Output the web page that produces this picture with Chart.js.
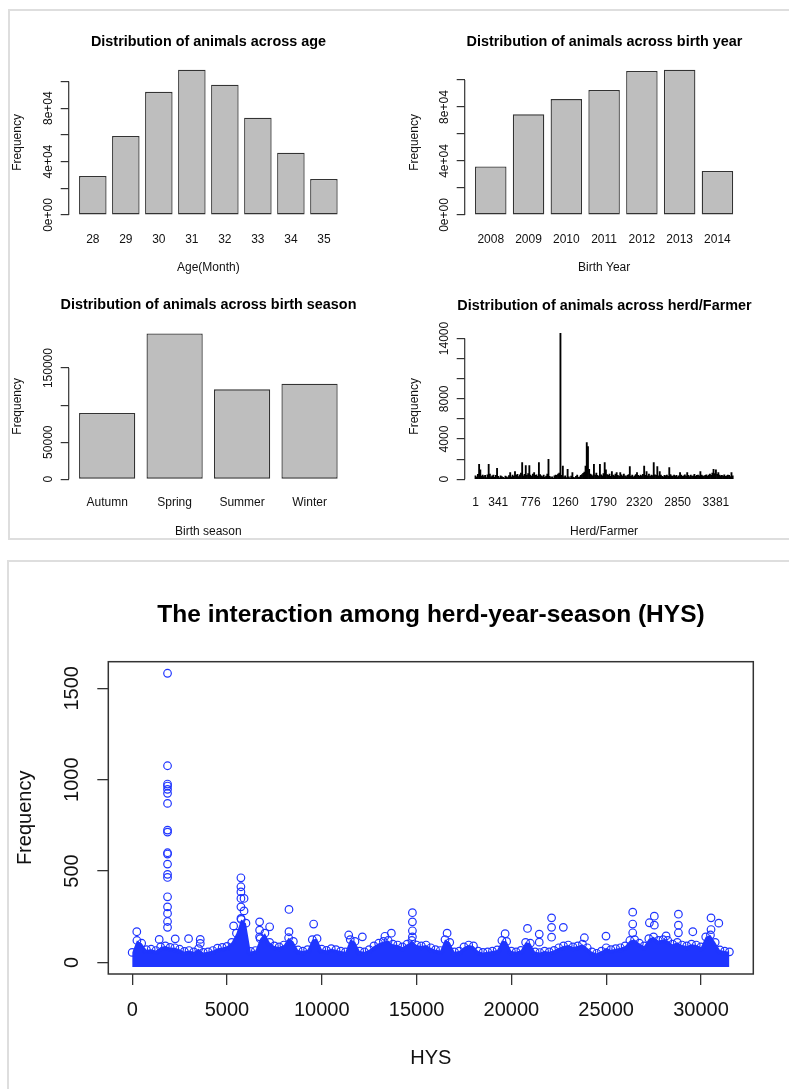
<!DOCTYPE html>
<html>
<head>
<meta charset="utf-8">
<script src="https://cdn.jsdelivr.net/npm/chart.js@4.4.1/dist/chart.umd.min.js"></script>
<style>
body{margin:0;background:#fff;width:789px;height:1089px;overflow:hidden;position:relative}
.panel{position:absolute;border:2px solid #dedede;border-right:none}
canvas{position:absolute}
</style>
</head>
<body>
<div class="panel" style="left:8px;top:9px;width:820px;height:527px"></div>
<div class="panel" style="left:7px;top:560px;width:820px;height:560px;border-bottom:none"></div>
<canvas id="ageChart"></canvas>
<canvas id="yearChart"></canvas>
<canvas id="seasonChart"></canvas>
<canvas id="herdChart"></canvas>
<canvas id="hysChart"></canvas>
<script>
// ---- data ----
const ageLabels = ['28','29','30','31','32','33','34','35'];
const ageCounts = [29200, 59100, 92200, 108700, 97500, 72800, 46600, 26900];
const ageTicks = [0, 20000, 40000, 60000, 80000, 100000];
const ageTickLabels = ['0e+00', '', '4e+04', '', '8e+04', ''];

const yearLabels = ['2008','2009','2010','2011','2012','2013','2014'];
const yearCounts = [36000, 74600, 85900, 92600, 106700, 107600, 32600];
const yearTicks = [0, 20000, 40000, 60000, 80000, 100000];
const yearTickLabels = ['0e+00', '', '4e+04', '', '8e+04', ''];

const seasonLabels = ['Autumn','Spring','Summer','Winter'];
const seasonCounts = [89300, 196700, 121300, 128800];
const seasonTicks = [0, 50000, 100000, 150000];
const seasonTickLabels = ['0', '50000', '', '150000'];

// herds, grouped left to right as they appear in the barplot
const herdCounts = [
  350,220,480,1490,930,310,420,260,390,180,450,1490,520,240,330,410,200,380,1090,290,150,340,270,190,
  120,310,230,180,360,660,250,420,300,760,380,500,270,440,610,1650,330,480,1360,390,560,1360,420,290,
  510,660,380,450,300,1650,470,350,260,420,190,310,520,1990,280,160,240,130,350,420,380,520,610,14500,
  380,1320,250,330,160,990,230,120,310,660,200,150,280,410,190,250,380,470,600,720,1320,3640,3240,980,
  520,430,350,1490,410,620,380,300,1490,450,350,560,1650,930,460,380,510,280,760,420,330,520,660,390,
  280,660,440,310,520,350,260,380,470,1260,300,410,250,330,460,660,380,290,410,350,480,1320,400,760,
  330,520,280,410,370,1650,450,390,1260,340,760,420,300,250,380,330,420,280,1160,470,350,290,420,310,
  380,250,330,660,410,290,350,440,320,660,380,260,410,300,350,480,290,380,420,350,760,410,330,290,
  380,450,320,410,510,380,620,990,560,930,480,660,420,350,390,310,450,280,350,420,380,260,660,330
];
const herdTickLabels = ['1','341','776','1260','1790','2320','2850','3381'];
const herdTickAt = [0, 19, 46, 75, 107, 137, 169, 201];
const herdTicks = [0, 2000, 4000, 6000, 8000, 10000, 12000, 14000];
const herdTickLabelsY = ['0', '', '4000', '', '8000', '', '', '14000'];

// HYS: upper edge of the dense cloud, one value per 250 HYS
const hysBin = 250;
const hysBandTop = [
  55,120,105,70,72,65,85,90,82,80,72,60,65,58,75,55,58,65,78,82,88,110,160,235,215,
  60,65,130,160,110,90,85,95,135,115,68,62,70,125,130,72,66,75,70,62,58,125,115,62,58,
  70,90,105,115,120,100,95,85,100,120,95,90,95,80,70,65,125,110,58,62,85,95,90,62,55,
  58,62,68,120,115,62,58,66,110,105,58,54,62,58,66,80,90,95,85,90,100,80,58,50,62,
  80,70,75,80,90,120,125,105,90,130,140,120,125,120,100,110,95,90,100,95,85,140,150,110,68,
  62,58
];
// HYS: isolated points above the cloud
const hysOutX = [
  1864,1864,1864,1864,1864,1864,1864,1864,1864,1864,1864,1864,1864,1864,1864,1864,1864,1864,1864,
  5735,5735,5735,5735,5900,5735,5900,5735,5350,6720,6720,6720,243,1425,2270,2973,3590,3590,
  8270,8270,9570,7250,12140,11420,13670,13330,14780,14780,14780,14780,
  22120,22120,22120,22740,20850,21470,21470,19670,16610,23850,
  26400,26400,26400,27540,27280,27540,28810,28810,28810,29570,30530,30940,30530,24990,28160
];
const hysOutY = [
  1582,1076,976,965,947,925,870,724,713,600,593,538,482,465,359,304,268,224,192,
  463,414,386,350,350,304,282,241,200,222,177,140,168,126,129,130,126,104,
  290,168,210,195,140,150,160,143,272,222,173,140,
  244,192,138,192,186,155,111,157,160,135,
  275,210,162,253,217,204,264,204,162,168,244,215,180,144,145
];
const hysTicksX = [0, 5000, 10000, 15000, 20000, 25000, 30000];
const hysTicksY = [0, 500, 1000, 1500];

// ---- R-like look ----
const FONT = '"Liberation Sans", Arial, sans-serif';
Chart.defaults.font.family = FONT;
Chart.defaults.color = '#111';
const INK = '#333';
const BLUE = '#1f35ff';

// axis line between first and last tick, rotated y labels, optional box
const rAxes = {
  id: 'rAxes',
  afterDraw(chart, args, opts) {
    const ctx = chart.ctx, y = chart.scales.y, a = chart.chartArea;
    ctx.save();
    ctx.strokeStyle = INK;
    if (opts.box) {
      ctx.lineWidth = 1.5;
      ctx.strokeRect(a.left, a.top, a.right - a.left, a.bottom - a.top);
    } else {
      ctx.lineWidth = 1.2;
      ctx.beginPath();
      ctx.moveTo(a.left, y.getPixelForValue(y.ticks[0].value));
      ctx.lineTo(a.left, y.getPixelForValue(y.ticks[y.ticks.length - 1].value));
      ctx.stroke();
    }
    ctx.fillStyle = '#111';
    ctx.font = opts.size + 'px ' + FONT;
    ctx.textAlign = 'center';
    ctx.textBaseline = 'middle';
    y.ticks.forEach(t => {
      if (!t.label) return;
      ctx.save();
      ctx.translate(a.left - opts.offset, y.getPixelForValue(t.value));
      ctx.rotate(-Math.PI / 2);
      ctx.fillText(t.label, 0, 0);
      ctx.restore();
    });
    ctx.restore();
  }
};

// place a canvas so its plot region lands on the reference one
function frame(el, a, t) {
  const lhMain = t.main * 1.2, lhLab = t.lab * 1.2, lhTick = t.tick * 1.2;
  const cl = Math.floor(t.yTitleX - lhLab / 2);
  const ct = Math.floor(t.titleY - lhMain / 2);
  const cb = Math.ceil(t.xTitleY + lhLab / 2);
  const yWidth = a.l - cl;
  el.width = Math.ceil(a.r + yWidth - cl);
  el.height = cb - ct;
  el.style.left = cl + 'px';
  el.style.top = ct + 'px';
  return {
    rightWidth: el.width - (a.r - cl),   // mirror of the left margin, keeps titles centred on the plot
    titlePad: {top: t.titleY - lhMain / 2 - ct, bottom: a.t - (t.titleY + lhMain / 2)},
    yTitlePad: {top: t.yTitleX - lhLab / 2 - cl, bottom: 0},
    xTitlePad: {top: 0, bottom: cb - t.xTitleY - lhLab / 2},
    yWidth: yWidth,
    xHeight: cb - a.b,
    xTickPad: t.xLabY - a.b - t.tl - lhTick / 2
  };
}

function spacer(f) {
  return {
    position: 'right',
    afterFit: s => { s.width = f.rightWidth; },
    grid: {display: false, drawTicks: false},
    border: {display: false},
    ticks: {display: false}
  };
}

function rBars(id, area, pos, counts, tickAt, tickText, yTicks, yTickText, title, xTitle, look) {
  const el = document.getElementById(id);
  const f = frame(el, area, Object.assign({main: 14.4, lab: 12, tick: 12, tl: 0}, pos));
  const n = counts.length;
  const span = 1.2 * n - 0.2;
  const centers = counts.map((c, i) => 0.7 + 1.2 * i);
  const top = Math.max(...counts);
  return new Chart(el, {
    type: 'bar',
    data: {
      datasets: [{
        data: counts.map((c, i) => ({x: centers[i], y: c})),
        backgroundColor: look.fill,
        borderColor: look.edge,
        borderWidth: look.edgeWidth,
        borderSkipped: false,
        barPercentage: 1,
        categoryPercentage: look.pct
      }]
    },
    plugins: [rAxes],
    options: {
      responsive: false,
      animation: false,
      events: [],
      layout: {padding: 0},
      plugins: {
        legend: {display: false},
        tooltip: {enabled: false},
        title: {display: true, text: title, color: '#000', font: {size: 14.4, weight: 'bold'}, padding: f.titlePad},
        rAxes: {offset: 20.5, size: 12, box: false}
      },
      scales: {
        x: {
          type: 'linear',
          offset: false,
          min: 0.2 - 0.04 * span,
          max: 1.2 * n + 0.04 * span,
          afterBuildTicks: s => { s.ticks = tickAt.map(i => ({value: centers[i]})); },
          afterFit: s => { s.height = f.xHeight; },
          grid: {display: false, drawTicks: false, offset: false},
          border: {display: false},
          ticks: {autoSkip: false, maxRotation: 0, font: {size: 12}, padding: f.xTickPad,
                  callback: (v, i) => tickText[i]},
          title: {display: true, text: xTitle, font: {size: 12}, padding: f.xTitlePad}
        },
        y: {
          min: -0.04 * top,
          max: 1.04 * top,
          afterBuildTicks: s => { s.ticks = yTicks.map(v => ({value: v})); },
          afterFit: s => { s.width = f.yWidth; },
          grid: {drawOnChartArea: false, drawTicks: true, tickLength: 8, color: INK, lineWidth: 1.2},
          border: {display: false},
          ticks: {display: false, callback: (v, i) => yTickText[i]},
          title: {display: true, text: 'Frequency', font: {size: 12}, padding: f.yTitlePad}
        },
        pad: spacer(f)
      }
    }
  });
}

const grey = {fill: '#bebebe', edge: '#333', edgeWidth: 1.3, pct: 1 / 1.2};

rBars('ageChart', {l: 68.7, t: 64, r: 348, b: 220.8},
  {titleY: 42.5, yTitleX: 18, xLabY: 240, xTitleY: 268},
  ageCounts, ageLabels.map((s, i) => i), ageLabels, ageTicks, ageTickLabels,
  'Distribution of animals across age', 'Age(Month)', grey);

rBars('yearChart', {l: 464.7, t: 64, r: 743.5, b: 220.8},
  {titleY: 42, yTitleX: 415, xLabY: 240, xTitleY: 268},
  yearCounts, yearLabels.map((s, i) => i), yearLabels, yearTicks, yearTickLabels,
  'Distribution of animals across birth year', 'Birth Year', grey);

rBars('seasonChart', {l: 68.7, t: 327.6, r: 348, b: 485.1},
  {titleY: 305.3, yTitleX: 18, xLabY: 503, xTitleY: 532},
  seasonCounts, seasonLabels.map((s, i) => i), seasonLabels, seasonTicks, seasonTickLabels,
  'Distribution of animals across birth season', 'Birth season', grey);

rBars('herdChart', {l: 464.7, t: 327.6, r: 743.5, b: 485.1},
  {titleY: 305.7, yTitleX: 415, xLabY: 503, xTitleY: 532},
  herdCounts, herdTickAt, herdTickLabels, herdTicks, herdTickLabelsY,
  'Distribution of animals across herd/Farmer', 'Herd/Farmer',
  {fill: '#000', edge: '#000', edgeWidth: 0, pct: 1});

// ---- HYS scatter ----
(function () {
  const el = document.getElementById('hysChart');
  const f = frame(el, {l: 108.3, t: 661.7, r: 753.3, b: 974},
    {titleY: 615, yTitleX: 25, xLabY: 1010, xTitleY: 1058, main: 24.5, lab: 20, tick: 20, tl: 11});
  const band = hysBandTop.map((v, i) => ({x: i * hysBin, y: v}));
  const out = hysOutX.map((x, i) => ({x: x, y: hysOutY[i]}));
  const xs = band.map(p => p.x).concat(hysOutX);
  const ys = hysBandTop.concat(hysOutY);
  const xLo = Math.min(...xs), xHi = Math.max(...xs);
  const yLo = 0, yHi = Math.max(...ys);
  new Chart(el, {
    type: 'scatter',
    data: {
      datasets: [{
        type: 'line',
        data: band,
        fill: {value: -25},
        backgroundColor: BLUE,
        borderColor: 'rgba(0,0,0,0)',
        borderWidth: 0,
        pointRadius: 3.8,
        pointBorderWidth: 1.2,
        pointBorderColor: BLUE,
        pointBackgroundColor: 'rgba(0,0,0,0)'
      }, {
        data: out,
        pointRadius: 3.8,
        borderWidth: 1.2,
        borderColor: BLUE,
        backgroundColor: 'rgba(0,0,0,0)'
      }]
    },
    plugins: [rAxes],
    options: {
      responsive: false,
      animation: false,
      events: [],
      layout: {padding: 0},
      plugins: {
        legend: {display: false},
        tooltip: {enabled: false},
        title: {display: true, text: 'The interaction among herd-year-season (HYS)', color: '#000',
                font: {size: 24.5, weight: 'bold'}, padding: f.titlePad},
        rAxes: {offset: 36.3, size: 20, box: true}
      },
      scales: {
        x: {
          min: xLo - 0.04 * (xHi - xLo),
          max: xHi + 0.04 * (xHi - xLo),
          afterBuildTicks: s => { s.ticks = hysTicksX.map(v => ({value: v})); },
          afterFit: s => { s.height = f.xHeight; },
          grid: {drawOnChartArea: false, drawTicks: true, tickLength: 11, color: INK, lineWidth: 1.3},
          border: {display: false},
          ticks: {autoSkip: false, maxRotation: 0, font: {size: 20}, padding: f.xTickPad,
                  callback: v => String(v)},
          title: {display: true, text: 'HYS', font: {size: 20}, padding: f.xTitlePad}
        },
        y: {
          min: yLo - 0.04 * (yHi - yLo),
          max: yHi + 0.04 * (yHi - yLo),
          afterBuildTicks: s => { s.ticks = hysTicksY.map(v => ({value: v})); },
          afterFit: s => { s.width = f.yWidth; },
          grid: {drawOnChartArea: false, drawTicks: true, tickLength: 11, color: INK, lineWidth: 1.3},
          border: {display: false},
          ticks: {display: false, callback: v => String(v)},
          title: {display: true, text: 'Frequency', font: {size: 20}, padding: f.yTitlePad}
        },
        pad: spacer(f)
      }
    }
  });
})();
</script>
</body>
</html>
